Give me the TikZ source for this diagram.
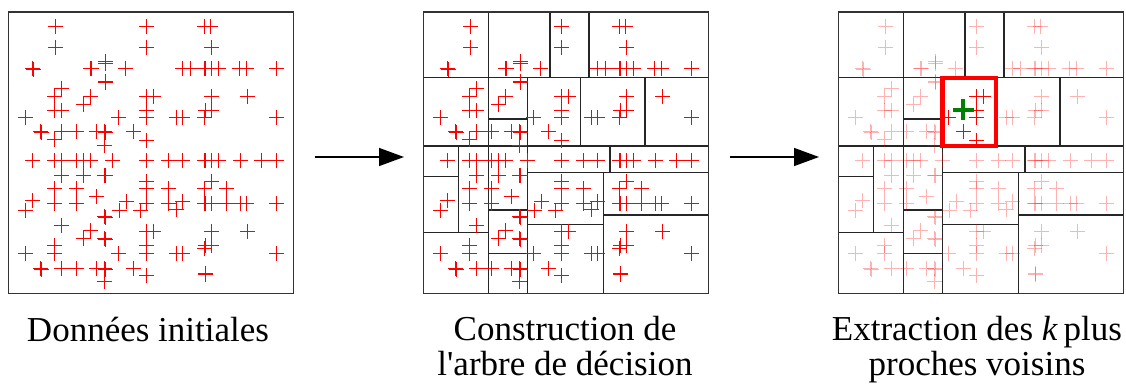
\documentclass[tikz,border=0pt]{standalone}
\usepackage{fontspec}
\setmainfont{Liberation Serif}
\usetikzlibrary{arrows.meta}
\newcommand\ptlist{55/26, 146.7/26, 204/26, 210.7/26,
55/47.7, 146.7/47.7, 211.7/47.7,
32.3/68.3, 33/69, 90/68.3, 91/68.8, 105/61, 105.5/63.5, 125/68.3, 182.7/68.3, 190/68.3, 204/68.3, 205/68.3, 211.7/68.3, 218.3/68.3, 239.3/68.3, 246.7/68.3, 276/68.3,
105/81.7, 105.7/82.5,
61.7/88.3, 54.3/96.7, 90.7/96, 83.3/104.3, 146.7/96.7, 153.3/96.7, 211.7/96.7, 247.3/96.7,
54.3/110, 61.7/110, 146.7/110, 205/110, 211.7/110,
25/117.3, 118.3/117.3, 146.7/117.3, 176.7/117.3, 182.7/117.3, 204/117.3, 276/117.3,
40/131.7, 41/132.5, 61/131.7, 76.7/131.7, 54.3/139.3, 96.7/131.7, 104/131.7, 105/132.5, 104/145.7, 133.3/131.7, 146.7/140,
32.3/160, 54.3/160, 61/160, 76.7/160, 83.3/160, 90/160, 112.7/160, 146.7/160, 168.3/160, 182.7/160, 204/160, 205/160, 211.7/160, 218.3/160, 240/160, 261.7/160, 276/160,
61/175, 83.3/175, 104/175, 105/175.8,
146.7/181, 146.7/188.3, 54.3/188.3, 76/188.3, 168.3/188.3, 211.7/181, 204/188.3, 226.7/188.3,
96.7/196.7, 32.3/200, 25/210, 54.3/203.3, 76/203.3, 126/201.7, 119/210, 146.7/203.3, 140/210, 168.3/203.3, 182.7/201.7, 176.7/209, 204/203.3, 205/203.3, 211.7/203.3, 226.7/203.3, 240/203.3, 246.7/203.3, 276/203.3,
104/216.7, 105/217.5, 61/225, 146.7/231, 153.3/231, 90.7/230, 83.3/238.3, 104/238.3, 105/239, 211.7/231, 247.3/231,
54.3/245, 146.7/245, 205/245, 204/248, 211.7/245,
25/253.3, 54.3/253.3, 118.3/253.3, 146.7/253.3, 176.7/253.3, 182.7/253.3, 276/253.3,
40/268.3, 41/269, 61/268.3, 76.7/268.3, 96.7/268.3, 104/268.3, 105/269, 133.3/268.3, 146.7/275, 205/273.3, 205.8/274, 104/281.7}
\newcommand\drawpts[1]{\foreach \px/\py in \ptlist {%
  \pgfmathsetmacro\qx{floor(\px)+0.5}%
  \pgfmathsetmacro\qy{floor(\py)+0.5}%
  \draw[#1] (\qx-7.5,\qy) -- (\qx+7.5,\qy) (\qx,\qy-7.5) -- (\qx,\qy+7.5);}}
\newcommand\cutlines{%
  \draw[cut] (8.5,77.3) -- (293.3,77.3);
  \draw[cut] (73.3,12) -- (73.3,77.3);
  \draw[cut] (135,12) -- (135,77.3);
  \draw[cut] (174,12) -- (174,77.3);
  \draw[cut] (73.3,77.3) -- (73.3,293.3);
  \draw[cut] (112.3,77.3) -- (112.3,293.3);
  \draw[cut] (165.7,77.3) -- (165.7,146);
  \draw[cut] (230,77.3) -- (230,146);
  \draw[cut] (73.3,119) -- (112.3,119);
  \draw[cut] (8.5,146) -- (293.3,146);
  \draw[cut] (43.5,146) -- (43.5,232.3);
  \draw[cut] (195,146) -- (195,172.7);
  \draw[cut] (112.3,172.7) -- (293.3,172.7);
  \draw[cut] (8.5,176.5) -- (43.5,176.5);
  \draw[cut] (73.3,210) -- (112.3,210);
  \draw[cut] (112.3,224.3) -- (188.3,224.3);
  \draw[cut] (188.3,172.7) -- (188.3,293.3);
  \draw[cut] (188.3,215) -- (293.3,215);
  \draw[cut] (8.5,232.3) -- (73.3,232.3);
  \draw[cut] (73.3,253.3) -- (112.3,253.3);}
\newcommand\panelframe{\draw[frame] (8.5,12) rectangle (293.3,293.3);}
\begin{document}
\begin{tikzpicture}[x=1pt,y=-1pt,
  frame/.style={draw=black!80,line width=1.4pt},
  cut/.style={draw=black!85,line width=1.4pt},
  pt/.style={draw=red,line width=1.35pt},
  ptlight/.style={draw=red,draw opacity=0.3,line width=1.35pt},
  arr/.style={draw=black,line width=1.4pt,-{Triangle[length=25pt,width=18pt]}},
  lab/.style={font=\fontsize{35}{35}\selectfont,inner sep=0pt,anchor=base,align=center}]
\useasboundingbox (0,0) rectangle (1126,385);
% panel 1
\begin{scope}
  \drawpts{pt}
  \panelframe
\end{scope}
% panel 2
\begin{scope}[xshift=415pt]
  \cutlines
  \drawpts{pt}
  \panelframe
\end{scope}
% panel 3
\begin{scope}[xshift=830pt]
  \cutlines
  \drawpts{ptlight}
  \begin{scope}
    \clip (112.3,77.3) rectangle (165.7,145.7);
    \drawpts{pt}
  \end{scope}
  \draw[red,line width=4.6pt] (112.3,78.2) rectangle (166,145.8);
  \draw[green!50!black,line width=4pt] (122.8,110) -- (143.8,110) (133.3,99.5) -- (133.3,120.5);
  \panelframe
\end{scope}
% arrows
\coordinate (a1s) at (315,157);
\coordinate (a1e) at (404,157);
\coordinate (a2s) at (730,157);
\coordinate (a2e) at (819,157);
\draw[arr] (a1s) -- (a1e);
\draw[arr] (a2s) -- (a2e);
% labels
\node[lab] (l1) at (148,341) {Données initiales};
\node[lab] (l2) at (565,375) {Construction de\\l\textquotesingle arbre de décision};
\node[lab] (l3) at (977,375) {Extraction des \textit{k}\,plus\\proches voisins};
\end{tikzpicture}
\end{document}
